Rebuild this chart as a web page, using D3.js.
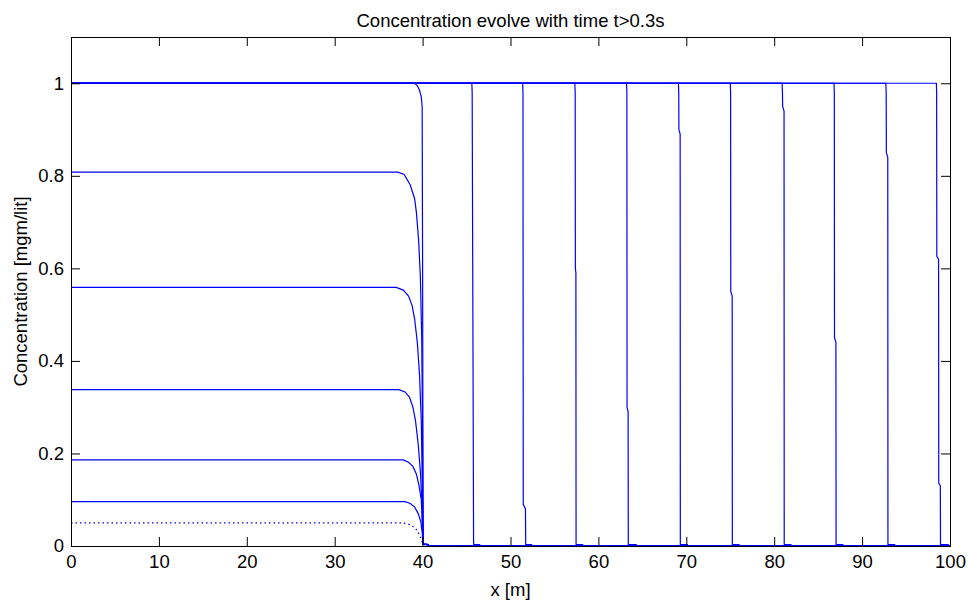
<!DOCTYPE html>
<html><head><meta charset="utf-8">
<script src="https://cdn.jsdelivr.net/npm/d3@7"></script>
<style>
body{margin:0;background:#fff}
text{font-family:"Liberation Sans",Arial,sans-serif;fill:#000}
</style>
</head><body>
<svg id="c" width="969" height="601"></svg>
<script>
const titleText = "Concentration evolve with time t>0.3s";
const xLabelText = "x [m]";
const yLabelText = "Concentration [mgm/lit]";
const xTicks = [0,10,20,30,40,50,60,70,80,90,100];
const yTicks = [0,0.2,0.4,0.6,0.8,1];
const yTickLabels = ["0","0.2","0.4","0.6","0.8","1"];

// early profiles (front at x ~ 40), [x, concentration]
const cDotted = [[0,0.05],[37.8,0.05],[38.6,0.046],[39.2,0.038],[39.6,0.026],[39.9,0.012],[40.05,0.003],[40.6,0.002],[40.7,0],[100,0]];
const c096 = [[0,0.096],[38.0,0.096],[38.6,0.092],[39.1,0.084],[39.5,0.07],[39.8,0.052],[39.95,0.03],[40.05,0.004],[40.6,0.003],[40.7,0],[100,0]];
const c186 = [[0,0.186],[37.8,0.186],[38.4,0.181],[38.9,0.172],[39.3,0.155],[39.6,0.13],[39.85,0.1],[39.95,0.06],[40.05,0.004],[40.6,0.003],[40.7,0],[100,0]];
const c338 = [[0,0.338],[37.3,0.338],[38.0,0.333],[38.5,0.322],[38.9,0.3],[39.2,0.27],[39.5,0.22],[39.75,0.16],[39.9,0.1],[40.0,0.04],[40.05,0.004],[40.6,0.003],[40.7,0],[100,0]];
const c559 = [[0,0.559],[37.0,0.559],[37.8,0.553],[38.4,0.54],[38.8,0.52],[39.1,0.49],[39.4,0.44],[39.65,0.37],[39.85,0.27],[39.95,0.15],[40.02,0.04],[40.06,0.004],[40.6,0.003],[40.7,0],[100,0]];
const c808 = [[0,0.808],[37.2,0.808],[37.9,0.803],[38.6,0.78],[39.1,0.75],[39.3,0.72],[39.55,0.66],[39.75,0.58],[39.9,0.45],[39.97,0.3],[40.03,0.1],[40.06,0.004],[40.6,0.003],[40.7,0],[100,0]];
const c1_40 = [[0,1],[39.1,1],[39.4,0.995],[39.65,0.985],[39.85,0.97],[39.95,0.95],[40.0,0.6],[40.05,0.1],[40.08,0.004],[40.6,0.003],[40.7,0],[100,0]];

// later profiles: saturated front moving right
const f46 = [[0,1],[45.6,1],[45.64,0.98],[45.8,0.01],[45.82,0.003],[46.5,0.003],[46.6,0],[100,0]];
const f51 = [[0,1],[51.38,1],[51.42,0.98],[51.45,0.09],[51.7,0.08],[51.73,0.003],[52.4,0.003],[52.5,0],[100,0]];
const f57 = [[0,1],[57.32,1],[57.36,0.98],[57.38,0.6],[57.44,0.59],[57.46,0.003],[58.2,0.003],[58.3,0],[100,0]];
const f63 = [[0,1],[63.2,1],[63.24,0.98],[63.26,0.3],[63.38,0.29],[63.4,0.003],[64.3,0.003],[64.4,0],[100,0]];
const f69 = [[0,1],[69.1,1],[69.14,0.98],[69.16,0.9],[69.3,0.89],[69.32,0.003],[70.1,0.003],[70.2,0],[100,0]];
const f75 = [[0,1],[75.0,1],[75.04,0.98],[75.06,0.55],[75.22,0.54],[75.24,0.003],[76.0,0.003],[76.1,0],[100,0]];
const f81 = [[0,1],[80.9,1],[80.94,0.98],[80.96,0.95],[81.12,0.94],[81.14,0.003],[81.9,0.003],[82.0,0],[100,0]];
const f87 = [[0,1],[86.8,1],[86.84,0.98],[86.86,0.45],[87.02,0.44],[87.04,0.003],[87.8,0.003],[87.9,0],[100,0]];
const f93 = [[0,1],[92.7,1],[92.74,0.98],[92.76,0.85],[92.92,0.84],[92.94,0.003],[93.7,0.003],[93.8,0],[100,0]];
const f99 = [[0,1],[98.45,1],[98.48,0.98],[98.5,0.626],[98.7,0.62],[98.72,0.136],[98.9,0.13],[98.92,0.003],[99.8,0.003],[99.85,0],[100,0]];

const solidSeries = [c096,c186,c338,c559,c808,c1_40,f46,f51,f57,f63,f69,f75,f81,f87,f93,f99];
const dottedSeries = [cDotted];

const svg = d3.select("#c");
const L=71, R=950, T=37, B=546;
const x = d3.scaleLinear().domain([0,100]).range([L,R]);
const y = d3.scaleLinear().domain([0,1.1]).range([B,T]);
const line = d3.line().x(d=>x(d[0])).y(d=>y(d[1]));
const FS = 18.5;

svg.append("clipPath").attr("id","pc").append("rect")
  .attr("x",L).attr("y",T).attr("width",R-L).attr("height",B-T);

const g = svg.append("g").attr("clip-path","url(#pc)");
g.selectAll("path.s").data(solidSeries).join("path")
  .attr("d",line).attr("fill","none").attr("stroke","#0000ff").attr("stroke-width",1.2);
g.selectAll("path.d").data(dottedSeries).join("path")
  .attr("d",line).attr("fill","none").attr("stroke","#0000ff").attr("stroke-width",1.2)
  .attr("stroke-dasharray","1.5,3");

const TL = 9;
const axB = svg.append("g").attr("transform",`translate(0,${B})`)
  .call(d3.axisBottom(x).tickValues(xTicks).tickSizeInner(-TL).tickSizeOuter(0).tickFormat(d3.format("d")));
const axT = svg.append("g").attr("transform",`translate(0,${T})`)
  .call(d3.axisTop(x).tickValues(xTicks).tickSizeInner(-TL).tickSizeOuter(0).tickFormat(""));
const axL = svg.append("g").attr("transform",`translate(${L},0)`)
  .call(d3.axisLeft(y).tickValues(yTicks).tickSizeInner(-TL).tickSizeOuter(0).tickFormat((d,i)=>yTickLabels[i]));
const axR = svg.append("g").attr("transform",`translate(${R},0)`)
  .call(d3.axisRight(y).tickValues(yTicks).tickSizeInner(-TL).tickSizeOuter(0).tickFormat(""));
[axB,axT,axL,axR].forEach(a=>{
  a.select(".domain").remove();
  a.selectAll("line").attr("stroke","#000");
  a.selectAll("text").attr("font-size",FS).style("fill","#000");
});
axB.selectAll("text").attr("dy","0.71em").attr("y",9);
axL.selectAll("text").attr("x",-7);

svg.append("rect").attr("x",L).attr("y",T).attr("width",R-L).attr("height",B-T)
  .attr("fill","none").attr("stroke","#000").attr("stroke-width",1).attr("shape-rendering","crispEdges");

svg.append("text").attr("x",(L+R)/2).attr("y",27).attr("text-anchor","middle").attr("font-size",FS).text(titleText);
svg.append("text").attr("x",(L+R)/2).attr("y",596).attr("text-anchor","middle").attr("font-size",FS).text(xLabelText);
svg.append("text").attr("transform",`translate(27,${(T+B)/2}) rotate(-90)`).attr("text-anchor","middle").attr("font-size",FS).text(yLabelText);
</script>
</body></html>
